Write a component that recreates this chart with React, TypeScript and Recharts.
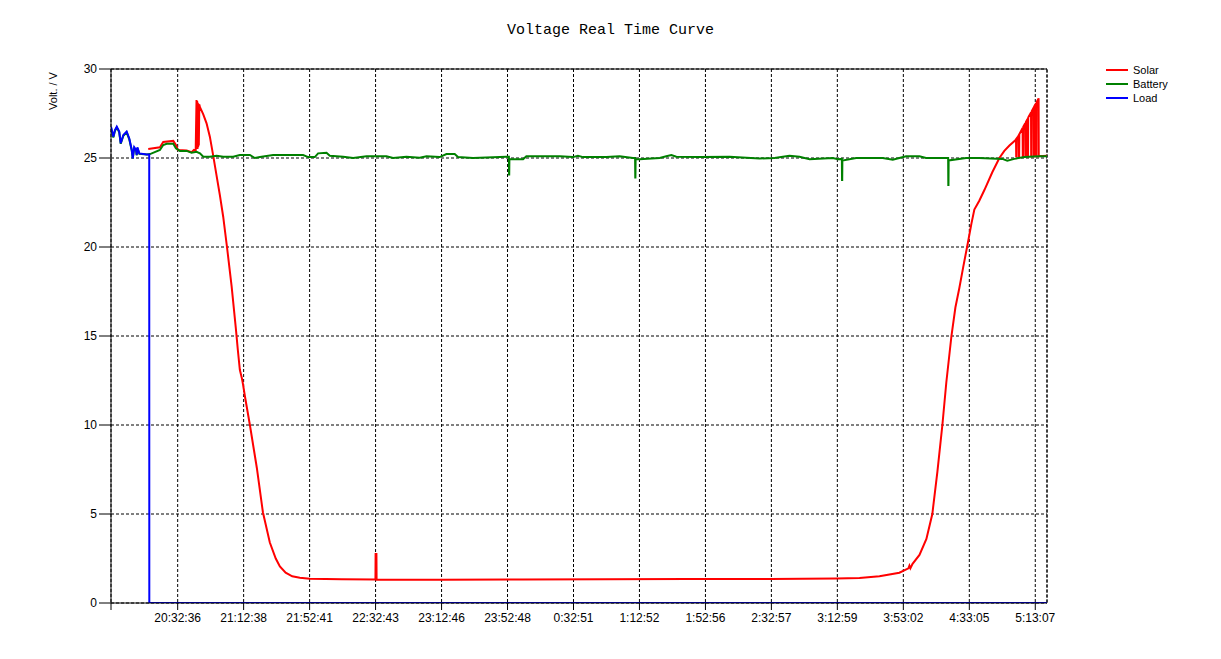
import React from 'react';
import { LineChart, Line, XAxis, YAxis, CartesianGrid, ReferenceLine } from 'recharts';

// ---- data ----
const START_TIME = '19:52:08';
const END_MINUTE = 568.1;

const tickLabels = [
  '20:32:36', '21:12:38', '21:52:41', '22:32:43', '23:12:46', '23:52:48', '0:32:51',
  '1:12:52', '1:52:56', '2:32:57', '3:12:59', '3:53:02', '4:33:05', '5:13:07',
];
const yTicks = [0, 5, 10, 15, 20, 25, 30];

const seriesNames = ['Solar', 'Battery', 'Load'];
const seriesColors = ['#ff0000', '#008000', '#0000ff'];

// [minutes since start, volts]
const solarPoints: [number, number][] = [
  [22.6, 25.5], [29.7, 25.6], [31.7, 25.9], [37.8, 25.96], [39.4, 25.73], [40.6, 25.45],
  [45.9, 25.42], [48.9, 25.33], [50.3, 25.45], [51.4, 25.4], [51.9, 28.26], [52.1, 25.5],
  [52.3, 28.2], [52.5, 25.5], [52.7, 28.1], [52.9, 25.6], [53.1, 28.05], [53.3, 25.7],
  [53.6, 28.0], [54.0, 27.85], [56.0, 27.45], [58.0, 26.95], [60.0, 26.2], [61.9, 25.2],
  [64.1, 24.0], [66.1, 22.9], [68.1, 21.7], [70.4, 20.0], [73.2, 17.8], [75.8, 15.4],
  [77.0, 14.2], [78.2, 13.1], [79.5, 12.6], [80.1, 12.3], [81.3, 11.6], [84.3, 10.0],
  [88.5, 7.6], [92.2, 5.1], [96.4, 3.4], [100.0, 2.5], [102.5, 2.05], [106.0, 1.7],
  [110.0, 1.5], [114.6, 1.42], [120.7, 1.36], [140.0, 1.33], [160.5, 1.32], [160.6, 2.75],
  [161.1, 2.75], [161.2, 1.3], [200.0, 1.3], [250.0, 1.32], [300.0, 1.33], [350.0, 1.35],
  [400.0, 1.35], [440.0, 1.38], [454.3, 1.4], [466.4, 1.5], [478.5, 1.7], [484.0, 1.95],
  [484.6, 2.1], [485.2, 1.95], [486.5, 2.2], [490.7, 2.7], [494.9, 3.6], [498.5, 5.0],
  [501.6, 7.4], [504.6, 10.0], [507.0, 12.4], [510.1, 15.0], [512.5, 16.6], [514.9, 17.7],
  [517.3, 18.9], [519.8, 20.1], [522.2, 21.3], [524.0, 22.1], [527.0, 22.6], [530.1, 23.2],
  [534.9, 24.2], [539.2, 25.0], [542.2, 25.4], [545.3, 25.7], [548.9, 26.0],
  [549.3, 26.05], [549.4, 25.1], [549.6, 25.1], [549.7, 26.07],
  [550.9, 26.27], [551.0, 25.1], [551.2, 25.1], [551.3, 26.34],
  [553.3, 26.68], [553.4, 25.1], [553.6, 25.1], [553.7, 26.75],
  [554.9, 26.96], [555.0, 25.1], [555.2, 25.1], [555.3, 27.02],
  [556.3, 27.2], [556.4, 25.1], [556.6, 25.1], [556.7, 27.27],
  [558.4, 27.56], [558.5, 25.1], [558.7, 25.1], [558.8, 27.63],
  [560.0, 27.83], [560.1, 25.1], [560.3, 25.1], [560.4, 27.9],
  [561.4, 28.07], [561.5, 25.1], [561.7, 25.1], [561.8, 28.14],
  [563.0, 28.35], [563.1, 25.1], [568.1, 25.12],
];

const batteryPoints: [number, number][] = [
  [0.0, 26.7], [1.4, 26.15], [2.4, 26.52], [3.5, 26.72], [5.0, 26.44], [5.9, 25.8],
  [7.5, 26.25], [9.5, 26.44], [11.1, 26.05], [12.6, 25.42], [13.2, 24.98], [14.1, 25.55],
  [15.2, 25.42], [15.6, 25.15], [16.0, 25.55], [17.2, 25.24], [21.7, 25.2], [23.7, 25.22],
  [29.7, 25.45], [31.7, 25.73], [33.8, 25.8], [37.8, 25.8], [39.4, 25.54], [41.8, 25.4],
  [45.9, 25.4], [48.9, 25.3], [51.9, 25.35], [54.0, 25.26], [56.0, 25.07], [60.0, 25.07],
  [64.1, 25.13], [68.1, 25.07], [74.2, 25.07], [78.2, 25.17], [84.3, 25.17], [87.3, 25.0],
  [90.4, 25.05], [98.4, 25.17], [116.6, 25.17], [119.7, 25.05], [123.7, 25.05], [125.7, 25.26],
  [130.8, 25.3], [132.8, 25.13], [140.9, 25.07], [147.0, 25.0], [155.1, 25.1], [167.2, 25.1],
  [171.2, 25.0], [179.3, 25.07], [187.4, 25.02], [191.5, 25.1], [199.5, 25.05], [203.6, 25.22],
  [208.6, 25.22], [210.6, 25.05], [219.7, 25.0], [240.0, 25.07], [241.5, 25.07], [241.6, 24.08],
  [241.7, 24.08], [241.8, 24.93], [243.0, 24.93], [250.1, 24.93], [252.1, 25.1], [272.3, 25.1],
  [280.4, 25.05], [283.4, 25.13], [286.5, 25.05], [300.6, 25.05], [308.7, 25.1], [316.8, 25.0],
  [318.1, 25.0], [318.2, 23.9], [318.3, 23.9], [318.4, 24.93], [320.8, 24.93], [333.0, 25.0],
  [337.0, 25.1], [340.1, 25.17], [343.1, 25.07], [357.2, 25.05], [375.4, 25.07], [393.6, 24.97],
  [402.7, 25.0], [411.8, 25.12], [417.9, 25.07], [424.0, 24.93], [438.1, 25.0], [441.2, 24.93],
  [443.6, 24.95], [443.7, 23.76], [443.8, 23.76], [443.9, 24.86], [452.3, 25.0], [468.4, 25.0],
  [474.5, 24.9], [478.5, 25.0], [482.6, 25.1], [490.7, 25.1], [494.7, 25.0], [506.9, 25.0],
  [508.1, 25.0], [508.2, 23.48], [508.3, 23.48], [508.4, 24.86], [519.0, 25.0], [527.0, 25.0],
  [541.0, 24.95], [544.0, 24.85], [548.3, 24.95], [554.3, 25.05], [563.4, 25.1], [568.1, 25.1],
];

const loadPoints: [number, number][] = [
  [0.0, 26.76], [1.4, 26.2], [2.4, 26.57], [3.5, 26.76], [5.0, 26.48], [5.9, 25.83],
  [7.5, 26.29], [9.5, 26.48], [11.1, 26.1], [12.6, 25.45], [13.2, 24.98], [14.1, 25.6],
  [15.2, 25.45], [15.6, 25.17], [16.0, 25.6], [17.2, 25.26], [21.7, 25.2], [23.2, 25.2],
  [23.25, 0], [568.1, 0],
];

// ---- helpers ----
function clockSeconds(s: string): number {
  const [h, m, sec] = s.split(':').map(Number);
  let t = h * 3600 + m * 60 + sec;
  if (h < 12) t += 86400;
  return t;
}
const startSec = clockSeconds(START_TIME);
const toMinute = (s: string) => (clockSeconds(s) - startSec) / 60;

const tickValues = [0, ...tickLabels.map(toMinute)];
const tickText = new Map<number, string>(tickLabels.map((l) => [toMinute(l), l]));

const toRows = (pts: [number, number][]) => pts.map(([t, v]) => ({ t, v }));
const seriesData = [toRows(solarPoints), toRows(batteryPoints), toRows(loadPoints)];

const tickFont = { fontSize: 12, fill: '#000', fontFamily: '"Liberation Sans", Arial, sans-serif' };

export default function App() {
  return (
    <div style={{ position: 'absolute', left: 0, top: 0, width: 1221, height: 659, background: '#fff' }}>
      <div
        style={{
          position: 'absolute', left: 0, top: 22, width: 1221, textAlign: 'center',
          fontFamily: '"Liberation Mono", "DejaVu Sans Mono", monospace', fontSize: 15, color: '#000',
        }}
      >
        Voltage Real Time Curve
      </div>
      <div
        style={{
          position: 'absolute', left: 53, top: 91, transform: 'translate(-50%, -50%) rotate(-90deg)',
          fontFamily: '"Liberation Sans", Arial, sans-serif', fontSize: 11, color: '#000', whiteSpace: 'nowrap',
        }}
      >
        Volt. / V
      </div>
      <div style={{ position: 'absolute', left: 1106, top: 63 }}>
        {seriesNames.map((n, i) => (
          <div key={n} style={{ display: 'flex', alignItems: 'center', height: 14 }}>
            <div style={{ width: 22, height: 2, background: seriesColors[i] }} />
            <span
              style={{
                marginLeft: 5, fontFamily: '"Liberation Sans", Arial, sans-serif', fontSize: 11, color: '#000',
              }}
            >
              {n}
            </span>
          </div>
        ))}
      </div>
      <LineChart width={1221} height={659} margin={{ top: 69, right: 174, bottom: 26, left: 0 }}>
        <CartesianGrid stroke="#000" strokeDasharray="3 2" />
        <XAxis
          type="number"
          dataKey="t"
          domain={[0, END_MINUTE]}
          ticks={tickValues}
          interval={0}
          allowDataOverflow
          height={30}
          stroke="#000"
          tickSize={7}
          tickMargin={3}
          tick={tickFont}
          tickFormatter={(v: number) => tickText.get(v) ?? ''}
        />
        <YAxis
          type="number"
          domain={[0, 30]}
          ticks={yTicks}
          interval={0}
          width={111}
          stroke="#000"
          tickSize={12}
          tickMargin={2}
          tick={tickFont}
          allowDataOverflow
        />
        <ReferenceLine y={30} stroke="#000" strokeWidth={1} />
        <ReferenceLine x={END_MINUTE} stroke="#000" strokeDasharray="3 2" />
        {seriesData.map((d, i) => (
          <Line
            key={seriesNames[i]}
            data={d}
            dataKey="v"
            name={seriesNames[i]}
            type="linear"
            stroke={seriesColors[i]}
            strokeWidth={2}
            dot={false}
            activeDot={false}
            isAnimationActive={false}
          />
        ))}
      </LineChart>
    </div>
  );
}
